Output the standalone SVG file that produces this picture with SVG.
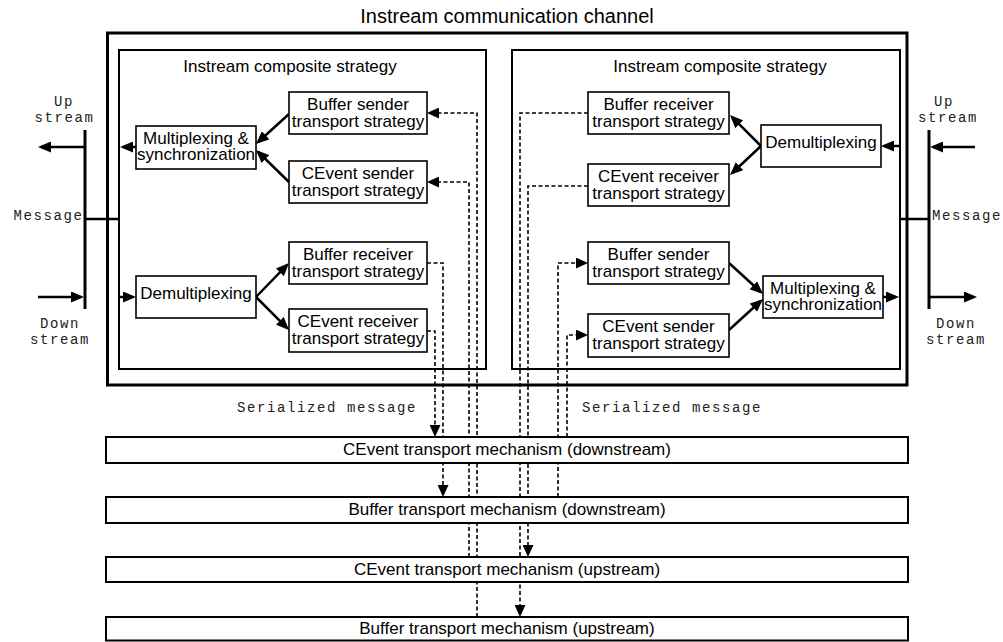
<svg xmlns="http://www.w3.org/2000/svg" width="1003" height="642" viewBox="0 0 1003 642">
  <style>
    .bg { fill: #ffffff; }
    .outer { fill: none; stroke: #000; stroke-width: 3; }
    .inner { fill: none; stroke: #000; stroke-width: 2; }
    .node { fill: #ffffff; stroke: #000; stroke-width: 1.6; }
    .bar { fill: #ffffff; stroke: #000; stroke-width: 2; }
    .sans { font-family: "Liberation Sans", Arial, sans-serif; font-size: 17px; fill: #000; }
    .title { font-family: "Liberation Sans", Arial, sans-serif; font-size: 20px; fill: #000; }
    .mono { font-family: "Liberation Mono", "Courier New", monospace; font-size: 14px; letter-spacing: 1.6px; fill: #222; }
    .mid { text-anchor: middle; }
    .flow { fill: none; stroke: #000; stroke-width: 2.5; }
    .rail { fill: none; stroke: #000; stroke-width: 3; }
    .dash { fill: none; stroke: #000; stroke-width: 1.6; stroke-dasharray: 4 2.5; }
  </style>
  <defs>
    <marker id="head" markerUnits="userSpaceOnUse" markerWidth="13" markerHeight="11" refX="10" refY="5.5" orient="auto">
      <path d="M0,0 L13,5.5 L0,11 z" fill="#000"/>
    </marker>
    <marker id="dhead" markerUnits="userSpaceOnUse" markerWidth="12" markerHeight="11" refX="9" refY="5.5" orient="auto">
      <path d="M0,0 L12,5.5 L0,11 z" fill="#000"/>
    </marker>
  </defs>

  <rect class="bg" x="0" y="0" width="1003" height="642"/>

  <!-- channel title and frames -->
  <text class="title mid" x="507" y="23">Instream communication channel</text>
  <rect class="outer" x="107.5" y="33" width="799.5" height="352"/>
  <g id="left-composite">
    <rect class="inner" x="119" y="50" width="367" height="319"/>
    <text class="sans mid" x="290" y="72">Instream composite strategy</text>
  </g>
  <g id="right-composite">
    <rect class="inner" x="512" y="50" width="388" height="319"/>
    <text class="sans mid" x="720" y="72">Instream composite strategy</text>
  </g>

  <!-- connectors (drawn before the mechanism bars so the bars mask them) -->
  <g id="connectors">
    <!-- left rail with message tap -->
    <path class="rail" d="M85,130 V309"/>
    <path class="flow" d="M85,219 H119"/>
    <path class="flow" d="M85,147 H41" marker-end="url(#head)"/>
    <path class="flow" d="M38,297 H81" marker-end="url(#head)"/>
    <path class="flow" d="M136,147 H123" marker-end="url(#head)"/>
    <path class="flow" d="M119,297 H133" marker-end="url(#head)"/>
    <path class="flow" d="M289,114 L258.2,142" marker-end="url(#head)"/>
    <path class="flow" d="M289,182 L258.2,152" marker-end="url(#head)"/>
    <path class="flow" d="M256,297 L286.9,265.2" marker-end="url(#head)"/>
    <path class="flow" d="M256,297 L286.9,327.9" marker-end="url(#head)"/>

    <!-- right rail with message tap -->
    <path class="rail" d="M929,130 V309"/>
    <path class="flow" d="M900,219 H929"/>
    <path class="flow" d="M975,147 H933" marker-end="url(#head)"/>
    <path class="flow" d="M929,297 H974" marker-end="url(#head)"/>
    <path class="flow" d="M900,146 H884" marker-end="url(#head)"/>
    <path class="flow" d="M883,297 H896" marker-end="url(#head)"/>
    <path class="flow" d="M761,146 L732.1,117.2" marker-end="url(#head)"/>
    <path class="flow" d="M761,146 L732.2,173" marker-end="url(#head)"/>
    <path class="flow" d="M729,263 L760.8,292" marker-end="url(#head)"/>
    <path class="flow" d="M729,330 L760.8,301" marker-end="url(#head)"/>

    <!-- serialized message paths -->
    <path class="dash" d="M477,617 V113 H430" marker-end="url(#dhead)"/>
    <path class="dash" d="M469,557 V182 H430" marker-end="url(#dhead)"/>
    <path class="dash" d="M427,263 H443 V494" marker-end="url(#dhead)"/>
    <path class="dash" d="M427,331 H435 V434" marker-end="url(#dhead)"/>
    <path class="dash" d="M588,113 H520 V614" marker-end="url(#dhead)"/>
    <path class="dash" d="M588,186 H528 V554" marker-end="url(#dhead)"/>
    <path class="dash" d="M558,497 V263 H585" marker-end="url(#dhead)"/>
    <path class="dash" d="M567,437 V335 H585" marker-end="url(#dhead)"/>
  </g>

  <!-- rail labels -->
  <text class="mono mid" x="64" y="106">Up</text>
  <text class="mono mid" x="64.5" y="122">stream</text>
  <text class="mono" x="83.5" y="220" text-anchor="end">Message</text>
  <text class="mono mid" x="60" y="328">Down</text>
  <text class="mono mid" x="60" y="344">stream</text>
  <text class="mono mid" x="944" y="106">Up</text>
  <text class="mono mid" x="948" y="122">stream</text>
  <text class="mono" x="932" y="220">Message</text>
  <text class="mono mid" x="956" y="328">Down</text>
  <text class="mono mid" x="956" y="344">stream</text>
  <text class="mono" x="237" y="412">Serialized message</text>
  <text class="mono" x="582" y="412">Serialized message</text>

  <!-- left strategy nodes -->
  <g id="l-buffer-sender">
    <rect class="node" x="289" y="92" width="138" height="42"/>
    <text class="sans mid" x="358" y="110">Buffer sender</text>
    <text class="sans mid" x="358" y="126.5">transport strategy</text>
  </g>
  <g id="l-mux">
    <rect class="node" x="136" y="126" width="120" height="43"/>
    <text class="sans mid" x="196" y="143.5">Multiplexing &amp;</text>
    <text class="sans mid" x="196" y="160">synchronization</text>
  </g>
  <g id="l-cevent-sender">
    <rect class="node" x="289" y="161" width="138" height="42"/>
    <text class="sans mid" x="358" y="179">CEvent sender</text>
    <text class="sans mid" x="358" y="195.5">transport strategy</text>
  </g>
  <g id="l-buffer-receiver">
    <rect class="node" x="289" y="242" width="138" height="42"/>
    <text class="sans mid" x="358" y="260">Buffer receiver</text>
    <text class="sans mid" x="358" y="276.5">transport strategy</text>
  </g>
  <g id="l-cevent-receiver">
    <rect class="node" x="289" y="309" width="138" height="43"/>
    <text class="sans mid" x="358" y="327">CEvent receiver</text>
    <text class="sans mid" x="358" y="343.5">transport strategy</text>
  </g>
  <g id="l-demux">
    <rect class="node" x="136" y="276" width="120" height="42"/>
    <text class="sans mid" x="196" y="299">Demultiplexing</text>
  </g>

  <!-- right strategy nodes -->
  <g id="r-buffer-receiver">
    <rect class="node" x="588" y="92" width="141" height="42"/>
    <text class="sans mid" x="658.5" y="110">Buffer receiver</text>
    <text class="sans mid" x="658.5" y="126.5">transport strategy</text>
  </g>
  <g id="r-cevent-receiver">
    <rect class="node" x="588" y="164" width="141" height="42"/>
    <text class="sans mid" x="658.5" y="182">CEvent receiver</text>
    <text class="sans mid" x="658.5" y="198.5">transport strategy</text>
  </g>
  <g id="r-demux">
    <rect class="node" x="761" y="125" width="120" height="42"/>
    <text class="sans mid" x="821" y="148">Demultiplexing</text>
  </g>
  <g id="r-buffer-sender">
    <rect class="node" x="588" y="242" width="141" height="42"/>
    <text class="sans mid" x="658.5" y="260">Buffer sender</text>
    <text class="sans mid" x="658.5" y="276.5">transport strategy</text>
  </g>
  <g id="r-cevent-sender">
    <rect class="node" x="588" y="314" width="141" height="43"/>
    <text class="sans mid" x="658.5" y="332">CEvent sender</text>
    <text class="sans mid" x="658.5" y="348.5">transport strategy</text>
  </g>
  <g id="r-mux">
    <rect class="node" x="763" y="276" width="120" height="42"/>
    <text class="sans mid" x="823" y="293.5">Multiplexing &amp;</text>
    <text class="sans mid" x="823" y="310">synchronization</text>
  </g>

  <!-- transport mechanism bars -->
  <g id="cevent-down">
    <rect class="bar" x="106" y="437" width="802" height="26"/>
    <text class="sans mid" x="507" y="455">CEvent transport mechanism (downstream)</text>
  </g>
  <g id="buffer-down">
    <rect class="bar" x="106" y="497" width="802" height="26"/>
    <text class="sans mid" x="507" y="515">Buffer transport mechanism (downstream)</text>
  </g>
  <g id="cevent-up">
    <rect class="bar" x="106" y="557" width="802" height="25"/>
    <text class="sans mid" x="507" y="575">CEvent transport mechanism (upstream)</text>
  </g>
  <g id="buffer-up">
    <rect class="bar" x="106" y="617" width="802" height="23.5"/>
    <text class="sans mid" x="507" y="634">Buffer transport mechanism (upstream)</text>
  </g>
</svg>
